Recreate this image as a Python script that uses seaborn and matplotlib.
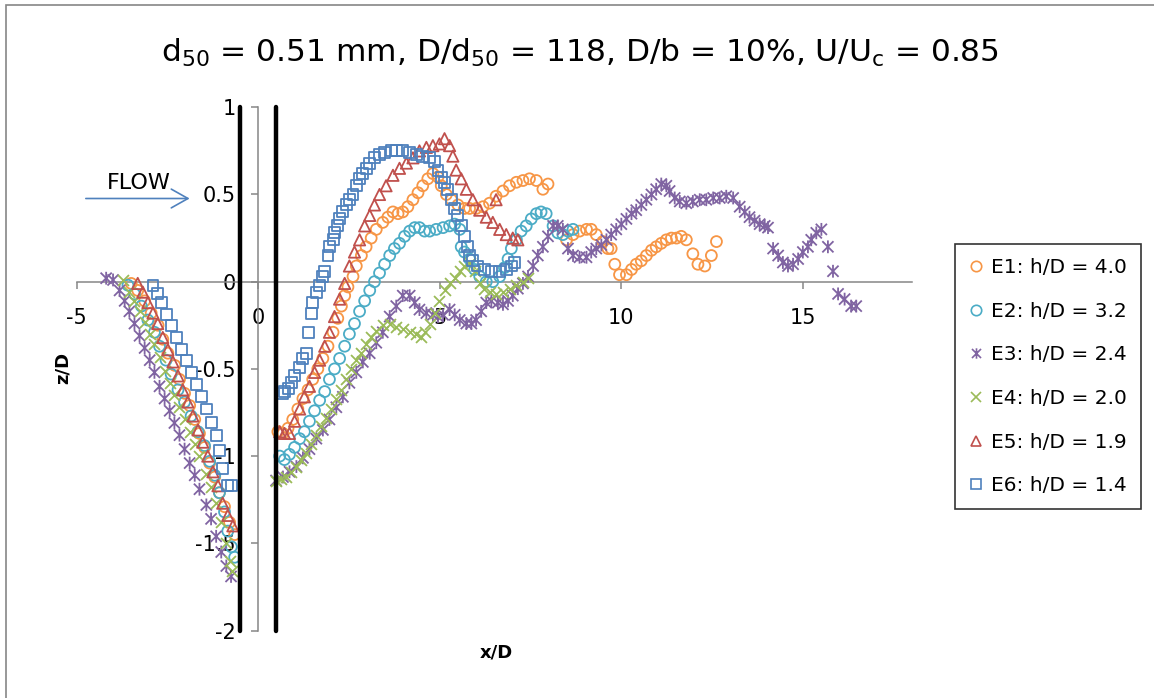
import matplotlib.pyplot as plt
import pandas as pd
import seaborn as sns
from matplotlib.lines import Line2D
from matplotlib.path import Path
from matplotlib.patches import Rectangle
from matplotlib.ticker import FuncFormatter

sns.set_style("white")
plt.rcParams["font.family"] = ["DejaVu Sans"]
plt.rcParams["mathtext.default"] = "regular"
plt.rcParams["text.color"] = "black"

# Series names and colours
labels = ["E1: h/D = 4.0", "E2: h/D = 3.2", "E3: h/D = 2.4",
          "E4: h/D = 2.0", "E5: h/D = 1.9", "E6: h/D = 1.4"]
colors = ["#F79646", "#4BACC6", "#8064A2", "#9BBB59", "#C0504D", "#4F81BD"]

# Bed profiles (x/D, z/D)
e1_pts = [(-3.50, -0.01), (-3.32, -0.05), (-3.13, -0.11), (-2.95, -0.18), (-2.76, -0.25),
          (-2.63, -0.33), (-2.49, -0.41), (-2.30, -0.48), (-2.17, -0.56), (-2.03, -0.64),
          (-1.89, -0.71), (-1.75, -0.79), (-1.62, -0.87), (-1.48, -0.95), (-1.34, -1.04),
          (-1.20, -1.12), (-1.07, -1.21), (-0.93, -1.29), (-0.79, -1.38), (-0.65, -1.45),
          (0.54, -0.86), (0.68, -0.87), (0.82, -0.84), (0.95, -0.79), (1.09, -0.73),
          (1.23, -0.67), (1.37, -0.62), (1.50, -0.56), (1.64, -0.50), (1.78, -0.44),
          (1.92, -0.37), (2.06, -0.29), (2.19, -0.21), (2.29, -0.14), (2.38, -0.08),
          (2.47, -0.03), (2.61, 0.03), (2.70, 0.09), (2.84, 0.15), (2.97, 0.20),
          (3.11, 0.25), (3.25, 0.30), (3.43, 0.34), (3.57, 0.37), (3.71, 0.40),
          (3.85, 0.39), (3.98, 0.40), (4.12, 0.43), (4.26, 0.47), (4.40, 0.51),
          (4.53, 0.55), (4.67, 0.59), (4.81, 0.62), (4.95, 0.60), (5.04, 0.55),
          (5.18, 0.50), (5.32, 0.47), (5.50, 0.44), (5.68, 0.42), (5.82, 0.42),
          (6.00, 0.42), (6.19, 0.43), (6.37, 0.45), (6.55, 0.49), (6.74, 0.52),
          (6.92, 0.55), (7.11, 0.57), (7.29, 0.58), (7.47, 0.59), (7.66, 0.58),
          (7.84, 0.53), (7.98, 0.56),
          (8.49, 0.24), (8.67, 0.27), (8.85, 0.29), (9.04, 0.30), (9.17, 0.30),
          (9.31, 0.27), (9.49, 0.23), (9.63, 0.19), (9.72, 0.19), (9.82, 0.10),
          (9.95, 0.04), (10.14, 0.04), (10.28, 0.07), (10.41, 0.10), (10.55, 0.12),
          (10.69, 0.15), (10.83, 0.18), (10.96, 0.20), (11.10, 0.22), (11.24, 0.24),
          (11.38, 0.25), (11.52, 0.25), (11.65, 0.26), (11.79, 0.24), (11.97, 0.16),
          (12.11, 0.10), (12.30, 0.09), (12.48, 0.15), (12.62, 0.23)]

e2_pts = [(-3.59, -0.02), (-3.41, -0.07), (-3.22, -0.14), (-3.04, -0.22), (-2.86, -0.29),
          (-2.72, -0.37), (-2.54, -0.45), (-2.40, -0.53), (-2.21, -0.62), (-2.03, -0.69),
          (-1.85, -0.77), (-1.66, -0.86), (-1.48, -0.94), (-1.34, -1.03), (-1.20, -1.11),
          (-1.07, -1.21), (-0.93, -1.32), (-0.84, -1.43), (-0.74, -1.52), (-0.65, -1.58),
          (0.59, -1.00), (0.72, -1.02), (0.86, -0.99), (1.00, -0.95), (1.14, -0.90),
          (1.27, -0.86), (1.41, -0.80), (1.55, -0.74), (1.69, -0.68), (1.83, -0.63),
          (1.96, -0.56), (2.10, -0.50), (2.24, -0.44), (2.38, -0.37), (2.51, -0.30),
          (2.65, -0.24), (2.79, -0.17), (2.93, -0.11), (3.07, -0.05), (3.20, 0.00),
          (3.34, 0.05), (3.48, 0.10), (3.62, 0.15), (3.75, 0.19), (3.89, 0.22),
          (4.03, 0.26), (4.17, 0.29), (4.31, 0.31), (4.44, 0.31), (4.58, 0.29),
          (4.72, 0.29), (4.90, 0.30), (5.09, 0.31), (5.27, 0.32), (5.41, 0.33),
          (5.55, 0.30), (5.59, 0.20), (5.68, 0.17), (5.82, 0.13), (5.96, 0.07),
          (6.10, 0.03), (6.28, 0.00), (6.46, 0.00), (6.65, 0.03), (6.78, 0.08),
          (6.88, 0.13), (6.97, 0.19), (7.11, 0.24), (7.24, 0.29), (7.38, 0.32),
          (7.52, 0.36), (7.66, 0.39), (7.79, 0.40), (7.93, 0.39), (8.12, 0.32),
          (8.25, 0.28), (8.39, 0.27), (8.53, 0.29), (8.67, 0.30)]

e3_pts = [(-4.19, 0.02), (-4.00, 0.01), (-3.82, -0.05), (-3.68, -0.11), (-3.55, -0.17),
          (-3.41, -0.24), (-3.27, -0.31), (-3.13, -0.38), (-2.99, -0.45), (-2.86, -0.52),
          (-2.72, -0.60), (-2.58, -0.67), (-2.44, -0.74), (-2.31, -0.81), (-2.17, -0.88),
          (-2.03, -0.96), (-1.89, -1.04), (-1.75, -1.11), (-1.62, -1.19), (-1.43, -1.28),
          (-1.30, -1.36), (-1.16, -1.46), (-1.02, -1.55), (-0.88, -1.63), (-0.75, -1.69),
          (0.49, -1.14), (0.68, -1.12), (0.86, -1.09), (1.05, -1.06), (1.23, -1.01),
          (1.41, -0.96), (1.60, -0.90), (1.78, -0.85), (1.96, -0.79), (2.15, -0.72),
          (2.33, -0.66), (2.51, -0.58), (2.70, -0.52), (2.88, -0.46), (3.07, -0.41),
          (3.25, -0.35), (3.43, -0.29), (3.62, -0.20), (3.80, -0.14), (3.98, -0.08),
          (4.17, -0.08), (4.31, -0.12), (4.44, -0.16), (4.63, -0.18), (4.81, -0.19),
          (4.95, -0.20), (5.09, -0.19), (5.27, -0.16), (5.41, -0.19), (5.55, -0.22),
          (5.73, -0.24), (5.87, -0.24), (6.00, -0.22), (6.14, -0.17), (6.28, -0.12),
          (6.42, -0.11), (6.60, -0.12), (6.74, -0.13), (6.88, -0.11), (7.01, -0.08),
          (7.15, -0.04), (7.29, -0.01), (7.43, 0.03), (7.57, 0.09), (7.70, 0.15),
          (7.84, 0.20), (7.98, 0.26), (8.12, 0.32), (8.25, 0.32), (8.39, 0.30),
          (8.53, 0.19), (8.67, 0.15), (8.85, 0.14), (9.04, 0.14), (9.17, 0.17),
          (9.31, 0.19), (9.45, 0.21), (9.59, 0.24), (9.72, 0.27), (9.86, 0.30),
          (10.00, 0.33), (10.14, 0.36), (10.28, 0.39), (10.41, 0.41), (10.55, 0.44),
          (10.69, 0.47), (10.83, 0.50), (10.96, 0.53), (11.10, 0.56), (11.24, 0.55),
          (11.33, 0.52), (11.47, 0.48), (11.61, 0.46), (11.79, 0.45), (11.97, 0.46),
          (12.16, 0.47), (12.34, 0.47), (12.53, 0.48), (12.71, 0.48), (12.89, 0.49),
          (13.08, 0.48), (13.26, 0.43), (13.40, 0.40), (13.53, 0.37), (13.67, 0.35),
          (13.81, 0.33), (13.95, 0.32), (14.04, 0.31), (14.18, 0.19), (14.32, 0.15),
          (14.45, 0.11), (14.59, 0.09), (14.73, 0.10), (14.87, 0.13), (15.00, 0.17),
          (15.14, 0.20), (15.23, 0.24), (15.37, 0.28), (15.51, 0.30), (15.69, 0.20),
          (15.83, 0.06), (15.97, -0.07), (16.15, -0.10), (16.33, -0.14), (16.47, -0.14)]

e4_pts = [(-3.73, 0.01), (-3.55, -0.06), (-3.41, -0.11), (-3.27, -0.17), (-3.13, -0.23),
          (-2.99, -0.30), (-2.86, -0.36), (-2.72, -0.43), (-2.58, -0.51), (-2.44, -0.58),
          (-2.31, -0.65), (-2.17, -0.72), (-2.03, -0.79), (-1.89, -0.86), (-1.75, -0.93),
          (-1.62, -1.00), (-1.43, -1.10), (-1.30, -1.18), (-1.16, -1.27), (-1.02, -1.38),
          (-0.88, -1.50), (-0.79, -1.60), (-0.72, -1.66),
          (0.49, -1.14), (0.63, -1.13), (0.77, -1.12), (0.91, -1.09), (1.05, -1.06),
          (1.18, -1.02), (1.32, -0.98), (1.46, -0.93), (1.60, -0.88), (1.73, -0.83),
          (1.87, -0.78), (2.01, -0.73), (2.15, -0.67), (2.28, -0.62), (2.42, -0.56),
          (2.56, -0.50), (2.70, -0.45), (2.84, -0.41), (2.97, -0.36), (3.11, -0.32),
          (3.25, -0.28), (3.43, -0.25), (3.62, -0.24), (3.80, -0.26), (3.98, -0.27),
          (4.17, -0.29), (4.35, -0.30), (4.49, -0.32), (4.58, -0.29), (4.72, -0.24),
          (4.86, -0.18), (4.99, -0.11), (5.13, -0.05), (5.27, -0.01), (5.41, 0.02),
          (5.55, 0.06), (5.68, 0.09), (5.82, 0.11), (5.96, 0.06), (6.10, -0.01),
          (6.23, -0.04), (6.37, -0.06), (6.55, -0.07), (6.74, -0.06), (6.92, -0.04),
          (7.11, -0.02), (7.29, 0.00), (7.43, 0.02)]

e5_pts = [(-3.32, -0.01), (-3.18, -0.06), (-3.04, -0.12), (-2.90, -0.18), (-2.77, -0.24),
          (-2.63, -0.32), (-2.49, -0.39), (-2.35, -0.46), (-2.21, -0.54), (-2.08, -0.62),
          (-1.94, -0.69), (-1.80, -0.77), (-1.66, -0.85), (-1.53, -0.92), (-1.39, -1.00),
          (-1.25, -1.09), (-1.11, -1.17), (-0.98, -1.27), (-0.84, -1.34), (-0.70, -1.40),
          (0.59, -0.86), (0.72, -0.87), (0.86, -0.87), (1.00, -0.80), (1.14, -0.73),
          (1.27, -0.66), (1.41, -0.60), (1.55, -0.52), (1.69, -0.45), (1.83, -0.37),
          (1.96, -0.29), (2.10, -0.20), (2.24, -0.10), (2.38, -0.01), (2.51, 0.09),
          (2.65, 0.17), (2.79, 0.24), (2.93, 0.32), (3.07, 0.38), (3.20, 0.44),
          (3.34, 0.50), (3.52, 0.55), (3.71, 0.61), (3.89, 0.65), (4.08, 0.68),
          (4.26, 0.71), (4.44, 0.75), (4.63, 0.77), (4.81, 0.78), (4.99, 0.79),
          (5.13, 0.82), (5.27, 0.78), (5.36, 0.72), (5.45, 0.64), (5.59, 0.59),
          (5.73, 0.53), (5.91, 0.47), (6.10, 0.41), (6.28, 0.37), (6.46, 0.34),
          (6.65, 0.30), (6.83, 0.27), (7.01, 0.25), (7.15, 0.24), (6.55, 0.47)]

e6_pts = [(-2.90, -0.02), (-2.77, -0.07), (-2.67, -0.12), (-2.53, -0.19), (-2.40, -0.25),
          (-2.26, -0.32), (-2.12, -0.39), (-1.98, -0.45), (-1.85, -0.52), (-1.71, -0.59),
          (-1.57, -0.66), (-1.43, -0.73), (-1.29, -0.81), (-1.16, -0.88), (-1.07, -0.97),
          (-0.98, -1.07), (-0.84, -1.17), (-0.75, -1.17),
          (0.68, -0.64), (0.72, -0.63), (0.82, -0.61), (0.91, -0.58), (1.00, -0.54),
          (1.14, -0.49), (1.23, -0.44), (1.32, -0.41), (1.39, -0.29), (1.46, -0.18),
          (1.50, -0.12), (1.60, -0.06), (1.69, -0.02), (1.78, 0.03), (1.83, 0.06),
          (1.92, 0.15), (1.96, 0.20), (2.06, 0.24), (2.10, 0.28), (2.19, 0.32),
          (2.24, 0.36), (2.33, 0.40), (2.42, 0.44), (2.51, 0.47), (2.61, 0.50),
          (2.70, 0.55), (2.79, 0.59), (2.88, 0.62), (2.97, 0.65), (3.07, 0.68),
          (3.20, 0.71), (3.34, 0.73), (3.48, 0.74), (3.66, 0.75), (3.80, 0.75),
          (3.98, 0.75), (4.17, 0.74), (4.35, 0.73), (4.53, 0.72), (4.72, 0.71),
          (4.86, 0.69), (4.95, 0.64), (5.04, 0.60), (5.13, 0.57), (5.22, 0.53),
          (5.32, 0.47), (5.41, 0.42), (5.50, 0.38), (5.59, 0.32), (5.68, 0.26),
          (5.77, 0.20), (5.82, 0.15), (5.91, 0.12), (6.05, 0.09), (6.23, 0.07),
          (6.42, 0.06), (6.65, 0.06), (6.83, 0.07), (6.97, 0.09), (7.06, 0.11)]

x_ticks = [-5, 0, 5, 10, 15]
y_ticks = [-2, -1.5, -1, -0.5, 0, 0.5, 1]
pier_edges = [-0.5, 0.5]

# Excel style "star" marker: an x with a vertical bar through it
star = Path([(-1, -1), (1, 1), (-1, 1), (1, -1), (0, -1.15), (0, 1.15)],
            [Path.MOVETO, Path.LINETO] * 3)
markers = ["o", "o", star, "x", "^", "s"]
sizes = [62, 62, 85, 62, 66, 62]

fig = plt.figure(figsize=(11.54, 6.98), dpi=100)
ax = fig.add_axes([0.0665, 0.0967, 0.7236, 0.7496])

for pts, col, mk, sz in zip([e1_pts, e2_pts, e3_pts, e4_pts, e5_pts, e6_pts],
                            colors, markers, sizes):
    df = pd.DataFrame(pts, columns=["x", "y"])
    kw = dict(color=col, marker=mk, s=sz, linewidth=1.3, zorder=3)
    if mk != "x":
        kw.update(facecolor="none", edgecolor=col)
    sns.scatterplot(data=df, x="x", y="y", ax=ax, legend=False, **kw)

# pier faces
for px in pier_edges:
    ax.plot([px, px], [-2, 1], color="black", lw=3.2, solid_capstyle="round",
            zorder=5, clip_on=False)

ax.set_xlim(-5, 18)
ax.set_ylim(-2, 1)
ax.set_xticks(x_ticks)
ax.set_yticks(y_ticks)
fmt = FuncFormatter(lambda v, p: f"{v:g}")
ax.xaxis.set_major_formatter(fmt)
ax.yaxis.set_major_formatter(fmt)
ax.set_xlabel("")
ax.set_ylabel("")

for s in ["top", "right"]:
    ax.spines[s].set_visible(False)
ax.spines["left"].set_position(("data", 0))
ax.spines["bottom"].set_position(("data", 0))
for s in ["left", "bottom"]:
    ax.spines[s].set_color("#868686")
    ax.spines[s].set_linewidth(1.1)
    ax.spines[s].set_zorder(2)

ax.tick_params(axis="x", direction="out", length=5, width=1.1, color="#868686",
               labelcolor="black", pad=14, labelsize=15, bottom=True)
ax.tick_params(axis="y", direction="out", length=5, width=1.1, color="#868686",
               labelcolor="black", pad=11, labelsize=15, left=True)

# flow direction
ax.annotate("", xy=(-1.89, 0.477), xytext=(-4.75, 0.477),
            arrowprops=dict(arrowstyle="->,head_length=0.8,head_width=0.45",
                            color="#4F81BD", lw=1.2, mutation_scale=15,
                            shrinkA=0, shrinkB=0))
ax.text(-3.29, 0.532, "FLOW", fontsize=16, color="black", ha="center", va="baseline")

fig.text(0.5026, 0.9116, "d$_{50}$ = 0.51 mm, D/d$_{50}$ = 118, D/b = 10%, U/U$_{c}$ = 0.85",
         fontsize=22.5, color="black", ha="center", va="baseline")
fig.text(0.430, 0.065, "x/D", fontsize=13, fontweight="bold", color="black",
         ha="center", va="center")
fig.text(0.054, 0.473, "z/D", fontsize=13, fontweight="bold", color="black",
         ha="center", va="center", rotation=90)

handles = [Line2D([], [], ls="none", marker=mk, color=col, mfc="none", mec=col,
                  mew=1.2, ms=7.5)
           for mk, col in zip(markers, colors)]
leg = fig.legend(handles, labels, loc="upper left", bbox_to_anchor=(0.8276, 0.6504),
                 bbox_transform=fig.transFigure, fontsize=14.5, frameon=True,
                 fancybox=False, borderpad=0.71, labelspacing=1.22,
                 handlelength=0.67, handletextpad=0.39, borderaxespad=0,
                 labelcolor="black")
leg.get_frame().set_edgecolor("black")
leg.get_frame().set_linewidth(1.2)

# chart area border
fig.patches.append(Rectangle((0.0052, -0.02), 1.1, 0.9928 + 0.02, transform=fig.transFigure,
                             fill=False, edgecolor="#868686", lw=1.2))

fig.savefig("out.png", dpi=100)
